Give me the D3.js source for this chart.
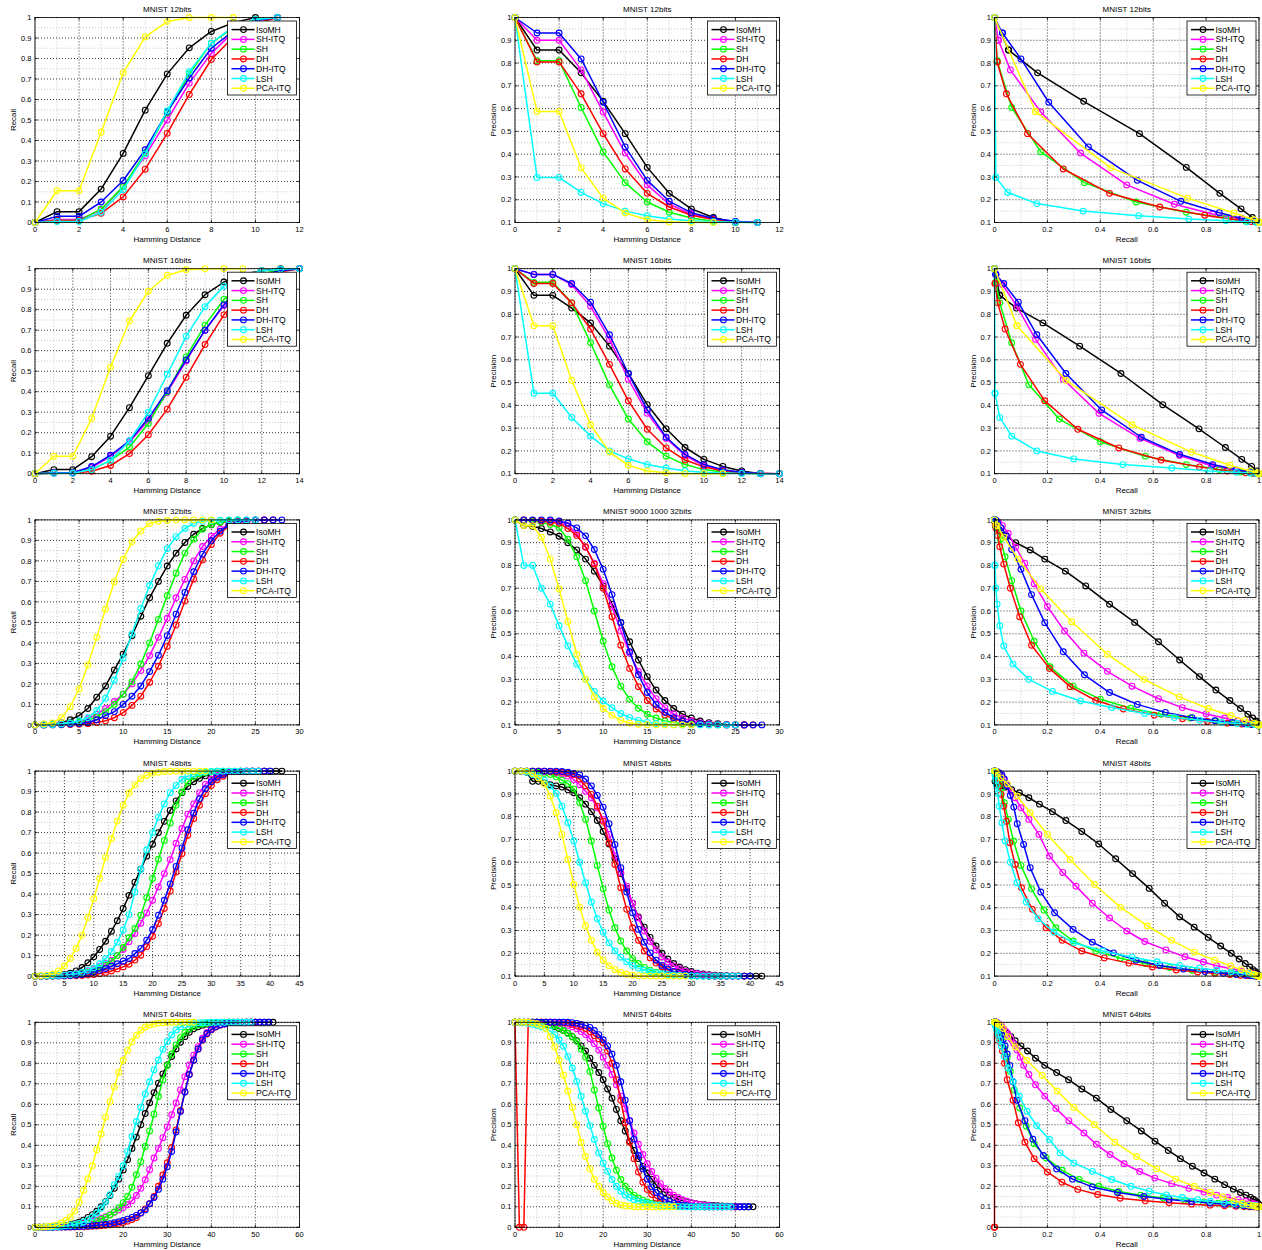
<!DOCTYPE html>
<html>
<head>
<meta charset="utf-8">
<script src="https://cdn.jsdelivr.net/npm/d3@7"></script>
<style>
  body { margin: 0; background: #fff; }
  svg text { font-family: "Liberation Sans", Arial, Helvetica, sans-serif; fill: #000; }
</style>
</head>
<body>
<svg id="chart" width="1262" height="1250"></svg>
<script>
// methods in legend / drawing order (last one ends on top)
const methods = ["IsoMH", "SH-ITQ", "SH", "DH", "DH-ITQ", "LSH", "PCA-ITQ"];
const colors = ["#000000", "#ff00ff", "#00ff00", "#ff0000", "#0000ff", "#00ffff", "#ffff00"];

const bitLabels = ["12bits", "16bits", "32bits", "48bits", "64bits"];
const midTitles = ["MNIST 12bits", "MNIST 16bits", "MNIST 9000 1000 32bits", "MNIST 48bits", "MNIST 64bits"];
const maxDist = [12, 14, 30, 45, 60];
const distStep = [2, 2, 5, 5, 10];
const precMin = [0.1, 0.1, 0.1, 0.1, 0];

// recall / precision per hamming radius (index = distance), one row per method
const recall12 = [
  [0,.053,.053,.163,.337,.548,.725,.852,.932,.975,1],
  [0,.015,.015,.06,.175,.325,.5,.68,.825,.93,.985,1],
  [0,.01,.01,.065,.175,.34,.535,.725,.875,.95,.99,1],
  [0,.01,.01,.045,.125,.26,.435,.625,.795,.905,.97,1],
  [0,.03,.03,.1,.205,.355,.54,.705,.85,.935,.985,1],
  [0,.005,.005,.05,.16,.335,.545,.735,.875,.955,.99,1],
  [0,.155,.155,.44,.73,.905,.98,1,1,1]
];
const precision12 = [
  [1,.857,.857,.757,.632,.49,.342,.228,.16,.122,.1],
  [1,.9,.9,.77,.585,.405,.265,.18,.137,.115,.104,.1],
  [1,.81,.81,.605,.41,.275,.19,.145,.12,.106,.101,.1],
  [1,.805,.805,.665,.49,.335,.228,.168,.132,.113,.104,.1],
  [1,.932,.932,.818,.628,.432,.285,.193,.143,.118,.105,.1],
  [1,.298,.298,.232,.183,.15,.13,.115,.108,.103,.101,.1],
  [1,.587,.587,.34,.207,.142,.112,.103,.101,.1]
];

const recall16 = [
  [0,.02,.02,.083,.183,.322,.478,.636,.773,.873,.935,.972,.99,1],
  [0,.005,.005,.03,.085,.155,.26,.395,.55,.7,.82,.91,.965,.99,1],
  [0,.005,.005,.02,.065,.13,.245,.4,.57,.725,.85,.93,.975,.995,1],
  [0,.002,.002,.012,.04,.098,.19,.315,.47,.63,.775,.88,.95,.985,1],
  [0,.005,.005,.035,.09,.16,.27,.405,.555,.7,.825,.915,.97,.99,1],
  [0,.002,.002,.02,.065,.16,.3,.485,.67,.815,.915,.965,.99,.998,1],
  [0,.085,.085,.27,.52,.745,.89,.968,.995,1,1,1]
];
const precision16 = [
  [1,.883,.883,.827,.762,.66,.54,.403,.297,.215,.163,.132,.112,.1],
  [1,.975,.975,.93,.835,.69,.515,.365,.255,.18,.135,.115,.105,.101,.1],
  [1,.94,.94,.85,.675,.49,.34,.24,.177,.14,.118,.107,.102,.1,.1],
  [1,.935,.935,.85,.735,.58,.42,.295,.213,.16,.13,.112,.104,.101,.1],
  [1,.975,.975,.935,.853,.71,.54,.38,.26,.185,.14,.117,.106,.101,.1],
  [1,.453,.453,.347,.265,.2,.165,.14,.125,.112,.106,.103,.101,.1,.1],
  [1,.75,.75,.51,.315,.195,.137,.112,.104,.101,.1,.1]
];

const recall32 = [
  [0,.003,.005,.01,.025,.045,.08,.135,.19,.268,.345,.435,.53,.62,.7,.775,.837,.89,.93,.958,.976,.988,.994,.997,.999,1,1],
  [0,.001,.002,.004,.008,.015,.03,.052,.08,.114,.15,.2,.265,.338,.427,.52,.62,.71,.8,.87,.92,.955,.978,.99,.996,.999,1],
  [0,.001,.002,.004,.008,.013,.022,.04,.065,.1,.15,.21,.297,.4,.515,.63,.74,.838,.906,.955,.978,.99,.997,1],
  [0,0,.001,.001,.002,.003,.006,.012,.02,.035,.06,.095,.14,.208,.286,.383,.487,.604,.711,.805,.88,.935,.97,.988,.995,.998,.999,1],
  [0,0,.001,.002,.004,.007,.012,.025,.045,.065,.1,.14,.19,.26,.34,.435,.54,.646,.747,.833,.898,.945,.975,.99,.996,.998,.999,1,1],
  [0,.001,.002,.005,.01,.02,.035,.07,.13,.219,.325,.443,.568,.68,.776,.86,.918,.958,.984,.993,.997,.999,1,1,1,1],
  [0,.005,.01,.035,.089,.175,.292,.427,.565,.698,.808,.893,.946,.982,.993,.997,.999,1,1,1,1]
];
const precision32 = [
  [1,.975,.972,.962,.947,.928,.9,.868,.828,.775,.71,.63,.55,.465,.385,.312,.253,.207,.172,.147,.13,.117,.11,.105,.102,.1,.1],
  [1,.998,.998,.997,.995,.99,.975,.94,.88,.81,.72,.62,.512,.415,.335,.27,.215,.176,.148,.13,.118,.11,.105,.102,.101,.1,.1],
  [1,.998,.995,.99,.98,.965,.915,.838,.733,.6,.467,.355,.27,.213,.173,.147,.13,.117,.11,.105,.102,.101,.1,.1],
  [1,1,.998,.995,.99,.985,.962,.932,.882,.806,.7,.575,.45,.348,.268,.207,.17,.143,.127,.115,.108,.104,.102,.101,.1,.1,.1,.1],
  [1,1,1,1,1,.995,.985,.965,.93,.87,.783,.672,.549,.421,.32,.242,.19,.155,.132,.118,.11,.105,.102,.101,.1,.1,.1,.1,.1],
  [1,.8,.8,.7,.63,.535,.447,.367,.3,.247,.205,.176,.15,.132,.12,.111,.106,.103,.101,.1,.1,.1,.1,.1,.1,.1],
  [1,.975,.975,.924,.828,.697,.553,.41,.3,.223,.172,.142,.12,.108,.103,.101,.1,.1,.1,.1,.1]
];

const recall48 = [
  [0,0,.001,.002,.004,.008,.014,.025,.042,.065,.094,.13,.17,.219,.27,.33,.394,.458,.522,.585,.643,.7,.755,.808,.855,.895,.925,.948,.965,.977,.985,.99,.994,.996,.998,.999,1,1,1,1,1,1,1],
  [0,0,.001,.002,.003,.005,.008,.012,.018,.025,.035,.048,.062,.078,.1,.13,.168,.208,.258,.308,.37,.435,.5,.568,.648,.72,.79,.84,.895,.935,.96,.977,.987,.993,.996,.998,.999,1],
  [0,0,.001,.001,.002,.003,.005,.008,.012,.018,.026,.037,.052,.072,.1,.14,.187,.232,.297,.383,.476,.57,.662,.747,.833,.898,.946,.972,.986,.993,.997,.999,1,1,1,1],
  [0,0,0,0,.001,.001,.002,.002,.003,.005,.008,.012,.018,.025,.035,.045,.058,.078,.102,.143,.195,.256,.33,.415,.508,.597,.687,.768,.833,.89,.93,.958,.975,.986,.992,.996,.998,.999,1,1],
  [0,0,0,.001,.001,.002,.003,.005,.008,.013,.02,.028,.037,.048,.06,.073,.086,.11,.135,.175,.227,.297,.37,.45,.535,.625,.714,.795,.865,.914,.948,.97,.983,.991,.995,.997,.999,1,1,1,1],
  [0,0,.001,.002,.003,.005,.008,.012,.018,.028,.04,.06,.085,.12,.165,.225,.3,.41,.52,.615,.7,.775,.84,.895,.93,.96,.975,.985,.992,.996,.998,.999,1,1,1,1,1,1,1],
  [0,.002,.005,.01,.025,.049,.086,.135,.2,.286,.378,.476,.578,.67,.756,.833,.893,.933,.963,.98,.99,.995,.998,.999,1,1,1,1,1,1]
];
const precision48 = [
  [1,1,.995,.955,.955,.948,.94,.935,.93,.918,.905,.883,.855,.822,.783,.735,.68,.615,.55,.485,.42,.36,.315,.27,.232,.2,.175,.155,.14,.128,.12,.113,.109,.106,.104,.103,.102,.101,.101,.1,.1,.1,.1],
  [1,1,1,1,1,.998,.997,.993,.988,.978,.963,.94,.911,.883,.839,.788,.722,.627,.555,.495,.42,.355,.298,.252,.215,.185,.162,.145,.132,.122,.115,.11,.106,.104,.102,.101,.1,.1],
  [1,1,1,.998,.995,.99,.985,.975,.96,.945,.922,.861,.788,.693,.586,.483,.39,.312,.254,.21,.178,.155,.138,.126,.117,.111,.107,.104,.102,.101,.1,.1,.1,.1,.1,.1],
  [1,1,1,1,1,1,.998,.997,.995,.99,.985,.965,.935,.898,.846,.78,.685,.59,.488,.393,.312,.257,.21,.18,.157,.14,.127,.118,.112,.107,.104,.102,.101,.1,.1,.1,.1,.1,.1,.1],
  [1,1,1,1,1,1,1,1,.998,.995,.99,.983,.965,.935,.893,.842,.769,.678,.576,.469,.378,.305,.249,.202,.17,.147,.131,.12,.112,.107,.104,.102,.101,.1,.1,.1,.1,.1,.1,.1,.1],
  [1,1,.995,.985,.975,.96,.935,.902,.846,.773,.693,.6,.51,.425,.352,.293,.246,.21,.183,.163,.147,.135,.126,.119,.114,.11,.107,.105,.103,.102,.101,.1,.1,.1,.1,.1,.1,.1,.1],
  [1,1,1,.99,.97,.944,.89,.817,.722,.612,.502,.403,.32,.257,.205,.17,.145,.128,.116,.108,.104,.102,.101,.1,.1,.1,.1,.1,.1,.1]
];

const recall64 = [
  [0,0,.001,.002,.003,.004,.006,.009,.013,.018,.025,.035,.048,.062,.078,.1,.125,.155,.19,.235,.28,.33,.385,.44,.5,.555,.607,.657,.703,.748,.792,.833,.87,.903,.93,.951,.968,.978,.986,.991,.994,.996,.998,.999,1,1,1,1,1,1,1,1,1,1,1],
  [0,0,.001,.001,.002,.002,.003,.005,.007,.01,.013,.017,.022,.028,.035,.043,.052,.062,.073,.085,.097,.11,.13,.155,.19,.232,.281,.338,.385,.437,.49,.549,.606,.67,.735,.792,.84,.881,.922,.95,.968,.98,.988,.993,.996,.998,.999,1,1,1,1,1],
  [0,0,.001,.001,.002,.003,.004,.005,.007,.009,.011,.014,.018,.023,.03,.038,.048,.06,.075,.095,.12,.15,.195,.256,.32,.394,.47,.552,.638,.719,.789,.845,.89,.925,.95,.967,.979,.987,.992,.995,.997,.998,.999,1,1,1,1,1],
  [0,0,0,0,0,.001,.001,.001,.002,.002,.003,.003,.004,.005,.006,.008,.01,.012,.015,.019,.024,.03,.038,.048,.07,.09,.115,.15,.2,.255,.315,.39,.475,.57,.66,.745,.815,.87,.912,.943,.963,.977,.986,.992,.995,.997,.998,.999,1,1,1],
  [0,0,0,0,0,.001,.001,.002,.002,.003,.004,.005,.006,.008,.01,.012,.015,.018,.022,.027,.033,.04,.048,.058,.07,.085,.115,.145,.185,.235,.295,.37,.465,.565,.66,.745,.815,.87,.915,.945,.965,.978,.987,.992,.995,.997,.998,.999,1,1,1,1,1,1],
  [0,0,.001,.001,.002,.003,.005,.007,.01,.014,.019,.026,.036,.05,.07,.094,.123,.159,.208,.248,.3,.37,.443,.516,.585,.65,.71,.768,.816,.868,.906,.938,.963,.978,.987,.992,.995,.997,.998,.999,1,1,1,1,1,1,1,1,1,1],
  [0,.001,.002,.004,.007,.012,.021,.033,.05,.079,.122,.18,.237,.3,.378,.455,.537,.613,.685,.755,.815,.863,.905,.937,.961,.977,.987,.992,.996,.998,.999,1,1,1,1,1,1]
];
const precision64 = [
  [1,1,1,1,1,1,.995,.99,.985,.978,.97,.96,.947,.93,.91,.885,.86,.825,.79,.755,.72,.675,.63,.575,.52,.47,.42,.375,.335,.298,.265,.235,.208,.186,.17,.157,.146,.137,.13,.124,.119,.115,.112,.11,.108,.106,.105,.104,.103,.102,.101,.1,.1,.1,.1],
  [1,1,1,1,1,1,1,1,1,.998,.995,.99,.985,.978,.968,.955,.94,.92,.895,.865,.83,.79,.745,.695,.64,.58,.52,.46,.405,.355,.31,.272,.24,.213,.19,.172,.157,.145,.135,.127,.12,.115,.111,.108,.106,.104,.103,.102,.101,.1,.1,.1],
  [1,1,1,1,1,1,.997,.993,.988,.982,.972,.96,.945,.928,.907,.87,.83,.76,.67,.582,.493,.408,.338,.278,.233,.2,.175,.157,.143,.132,.124,.118,.113,.109,.106,.104,.103,.102,.101,.1,.1,.1,.1,.1,.1,.1,.1,.1],
  [1,0,0,1,1,1,1,1,1,1,1,.998,.995,.99,.985,.978,.97,.955,.935,.92,.9,.86,.8,.72,.62,.51,.415,.335,.27,.22,.185,.16,.142,.129,.12,.113,.108,.105,.103,.101,.1,.1,.1,.1,.1,.1,.1,.1,.1,.1,.1],
  [1,1,1,1,1,1,1,1,1,1,1,1,1,.998,.995,.99,.985,.975,.96,.94,.915,.885,.845,.79,.71,.62,.52,.43,.35,.285,.235,.197,.17,.15,.136,.126,.118,.112,.108,.105,.103,.102,.101,.1,.1,.1,.1,.1,.1,.1,.1,.1,.1,.1],
  [1,1,1,.995,.99,.985,.978,.97,.957,.94,.915,.883,.834,.777,.712,.639,.566,.496,.428,.363,.314,.273,.233,.2,.176,.158,.145,.135,.127,.121,.116,.112,.109,.107,.105,.104,.103,.102,.101,.1,.1,.1,.1,.1,.1,.1,.1,.1,.1,.1],
  [1,1,1,1,.997,.993,.985,.97,.93,.88,.815,.742,.665,.585,.5,.415,.345,.285,.235,.2,.17,.148,.13,.117,.109,.105,.103,.101,.1,.1,.1,.1,.1,.1,.1,.1,.1]
];

const recallAll = [recall12, recall16, recall32, recall48, recall64];
const precisionAll = [precision12, precision16, precision32, precision48, precision64];

// ---------------------------------------------------------------
// layout
const svg = d3.select("#chart");
const colLeft = [35, 515, 994.5];
const plotW = 264.5, plotH = 205;
const rowTop = r => 17.5 + r * 251.2;

const fmt = v => String(+v.toFixed(2));

function ticksBy(lo, hi, step) {
  const out = [];
  for (let v = lo; v <= hi + 1e-9; v += step) out.push(+v.toFixed(4));
  return out;
}

function drawPanel(col, row, opt) {
  const left = colLeft[col], top = rowTop(row);
  const x = d3.scaleLinear().domain(opt.xDomain).range([left, left + plotW]);
  const y = d3.scaleLinear().domain(opt.yDomain).range([top + plotH, top]);
  const g = svg.append("g");

  const xMinor = d3.pairs(opt.xTicks).map(p => (p[0] + p[1]) / 2);
  const yMinor = d3.pairs(opt.yTicks).map(p => (p[0] + p[1]) / 2);

  // minor grid
  g.append("g").selectAll("line").data(xMinor).join("line")
    .attr("x1", d => x(d)).attr("x2", d => x(d))
    .attr("y1", top).attr("y2", top + plotH)
    .attr("stroke", "#b0b0b0").attr("stroke-width", 0.7).attr("stroke-dasharray", "1,2");
  g.append("g").selectAll("line").data(yMinor).join("line")
    .attr("y1", d => y(d)).attr("y2", d => y(d))
    .attr("x1", left).attr("x2", left + plotW)
    .attr("stroke", "#b0b0b0").attr("stroke-width", 0.7).attr("stroke-dasharray", "1,2");

  // major grid
  g.append("g").selectAll("line").data(opt.xTicks).join("line")
    .attr("x1", d => x(d)).attr("x2", d => x(d))
    .attr("y1", top).attr("y2", top + plotH)
    .attr("stroke", "#000").attr("stroke-width", 0.8).attr("stroke-dasharray", "1,2");
  g.append("g").selectAll("line").data(opt.yTicks).join("line")
    .attr("y1", d => y(d)).attr("y2", d => y(d))
    .attr("x1", left).attr("x2", left + plotW)
    .attr("stroke", "#000").attr("stroke-width", 0.8).attr("stroke-dasharray", "1,2");

  // series
  const line = d3.line().x(d => x(d[0])).y(d => y(d[1]));
  opt.series.forEach((pts, i) => {
    const s = g.append("g");
    s.append("path").datum(pts)
      .attr("d", line)
      .attr("fill", "none")
      .attr("stroke", colors[i])
      .attr("stroke-width", 1.5)
      .attr("stroke-linejoin", "round");
    s.selectAll("circle").data(pts).join("circle")
      .attr("cx", d => x(d[0])).attr("cy", d => y(d[1]))
      .attr("r", 2.9)
      .attr("fill", "none")
      .attr("stroke", colors[i])
      .attr("stroke-width", 1.1);
  });

  // box + inward ticks
  g.append("rect")
    .attr("x", left).attr("y", top).attr("width", plotW).attr("height", plotH)
    .attr("fill", "none").attr("stroke", "#000").attr("stroke-width", 0.8);
  const tk = 2.6;
  opt.xTicks.forEach(t => {
    g.append("line").attr("x1", x(t)).attr("x2", x(t)).attr("y1", top + plotH).attr("y2", top + plotH - tk)
      .attr("stroke", "#000").attr("stroke-width", 0.8);
    g.append("line").attr("x1", x(t)).attr("x2", x(t)).attr("y1", top).attr("y2", top + tk)
      .attr("stroke", "#000").attr("stroke-width", 0.8);
  });
  opt.yTicks.forEach(t => {
    g.append("line").attr("x1", left).attr("x2", left + tk).attr("y1", y(t)).attr("y2", y(t))
      .attr("stroke", "#000").attr("stroke-width", 0.8);
    g.append("line").attr("x1", left + plotW).attr("x2", left + plotW - tk).attr("y1", y(t)).attr("y2", y(t))
      .attr("stroke", "#000").attr("stroke-width", 0.8);
  });

  // tick labels
  g.append("g").selectAll("text").data(opt.xTicks).join("text")
    .attr("x", d => x(d)).attr("y", top + plotH + 9.5)
    .attr("text-anchor", "middle").attr("font-size", 7.5)
    .text(fmt);
  g.append("g").selectAll("text").data(opt.yTicks).join("text")
    .attr("x", left - 3.5).attr("y", d => y(d)).attr("dy", "0.35em")
    .attr("text-anchor", "end").attr("font-size", 7.5)
    .text(fmt);

  // title and axis labels
  g.append("text")
    .attr("x", left + plotW / 2).attr("y", top - 5.5)
    .attr("text-anchor", "middle").attr("font-size", 8)
    .text(opt.title);
  g.append("text")
    .attr("x", left + plotW / 2).attr("y", top + plotH + 19.5)
    .attr("text-anchor", "middle").attr("font-size", 8)
    .text(opt.xLabel);
  g.append("text")
    .attr("transform", "translate(" + (left - 19) + "," + (top + plotH / 2) + ")rotate(-90)")
    .attr("text-anchor", "middle").attr("font-size", 8)
    .text(opt.yLabel);

  // legend (upper right, drawn over the lines)
  const lw = 69, lh = 74;
  const lx = left + plotW - 3 - lw, ly = top + 3.5;
  const lg = g.append("g");
  lg.append("rect")
    .attr("x", lx).attr("y", ly).attr("width", lw).attr("height", lh)
    .attr("fill", "#fff").attr("stroke", "#000").attr("stroke-width", 0.8);
  methods.forEach((m, i) => {
    const yy = ly + 8.6 + i * 9.78;
    lg.append("line")
      .attr("x1", lx + 4).attr("x2", lx + 27).attr("y1", yy).attr("y2", yy)
      .attr("stroke", colors[i]).attr("stroke-width", 1.5);
    lg.append("circle")
      .attr("cx", lx + 16).attr("cy", yy).attr("r", 2.9)
      .attr("fill", "none").attr("stroke", colors[i]).attr("stroke-width", 1.1);
    lg.append("text")
      .attr("x", lx + 28.5).attr("y", yy).attr("dy", "0.35em")
      .attr("font-size", 8.6)
      .text(m);
  });
}

bitLabels.forEach((b, r) => {
  const rec = recallAll[r], prec = precisionAll[r];
  const xTicksD = ticksBy(0, maxDist[r], distStep[r]);
  const yPrec = ticksBy(precMin[r], 1, 0.1);

  // recall vs hamming distance
  drawPanel(0, r, {
    title: "MNIST " + b,
    xDomain: [0, maxDist[r]], yDomain: [0, 1],
    xTicks: xTicksD, yTicks: ticksBy(0, 1, 0.1),
    xLabel: "Hamming Distance", yLabel: "Recall",
    series: rec.map(arr => arr.map((v, d) => [d, v]))
  });

  // precision vs hamming distance
  drawPanel(1, r, {
    title: midTitles[r],
    xDomain: [0, maxDist[r]], yDomain: [precMin[r], 1],
    xTicks: xTicksD, yTicks: yPrec,
    xLabel: "Hamming Distance", yLabel: "Precision",
    series: prec.map(arr => arr.map((v, d) => [d, v]))
  });

  // precision vs recall (same radii)
  drawPanel(2, r, {
    title: "MNIST " + b,
    xDomain: [0, 1], yDomain: [precMin[r], 1],
    xTicks: ticksBy(0, 1, 0.2), yTicks: yPrec,
    xLabel: "Recall", yLabel: "Precision",
    series: rec.map((arr, i) => {
      const n = Math.min(arr.length, prec[i].length);
      return d3.range(n).map(d => [arr[d], prec[i][d]]);
    })
  });
});
</script>
</body>
</html>
